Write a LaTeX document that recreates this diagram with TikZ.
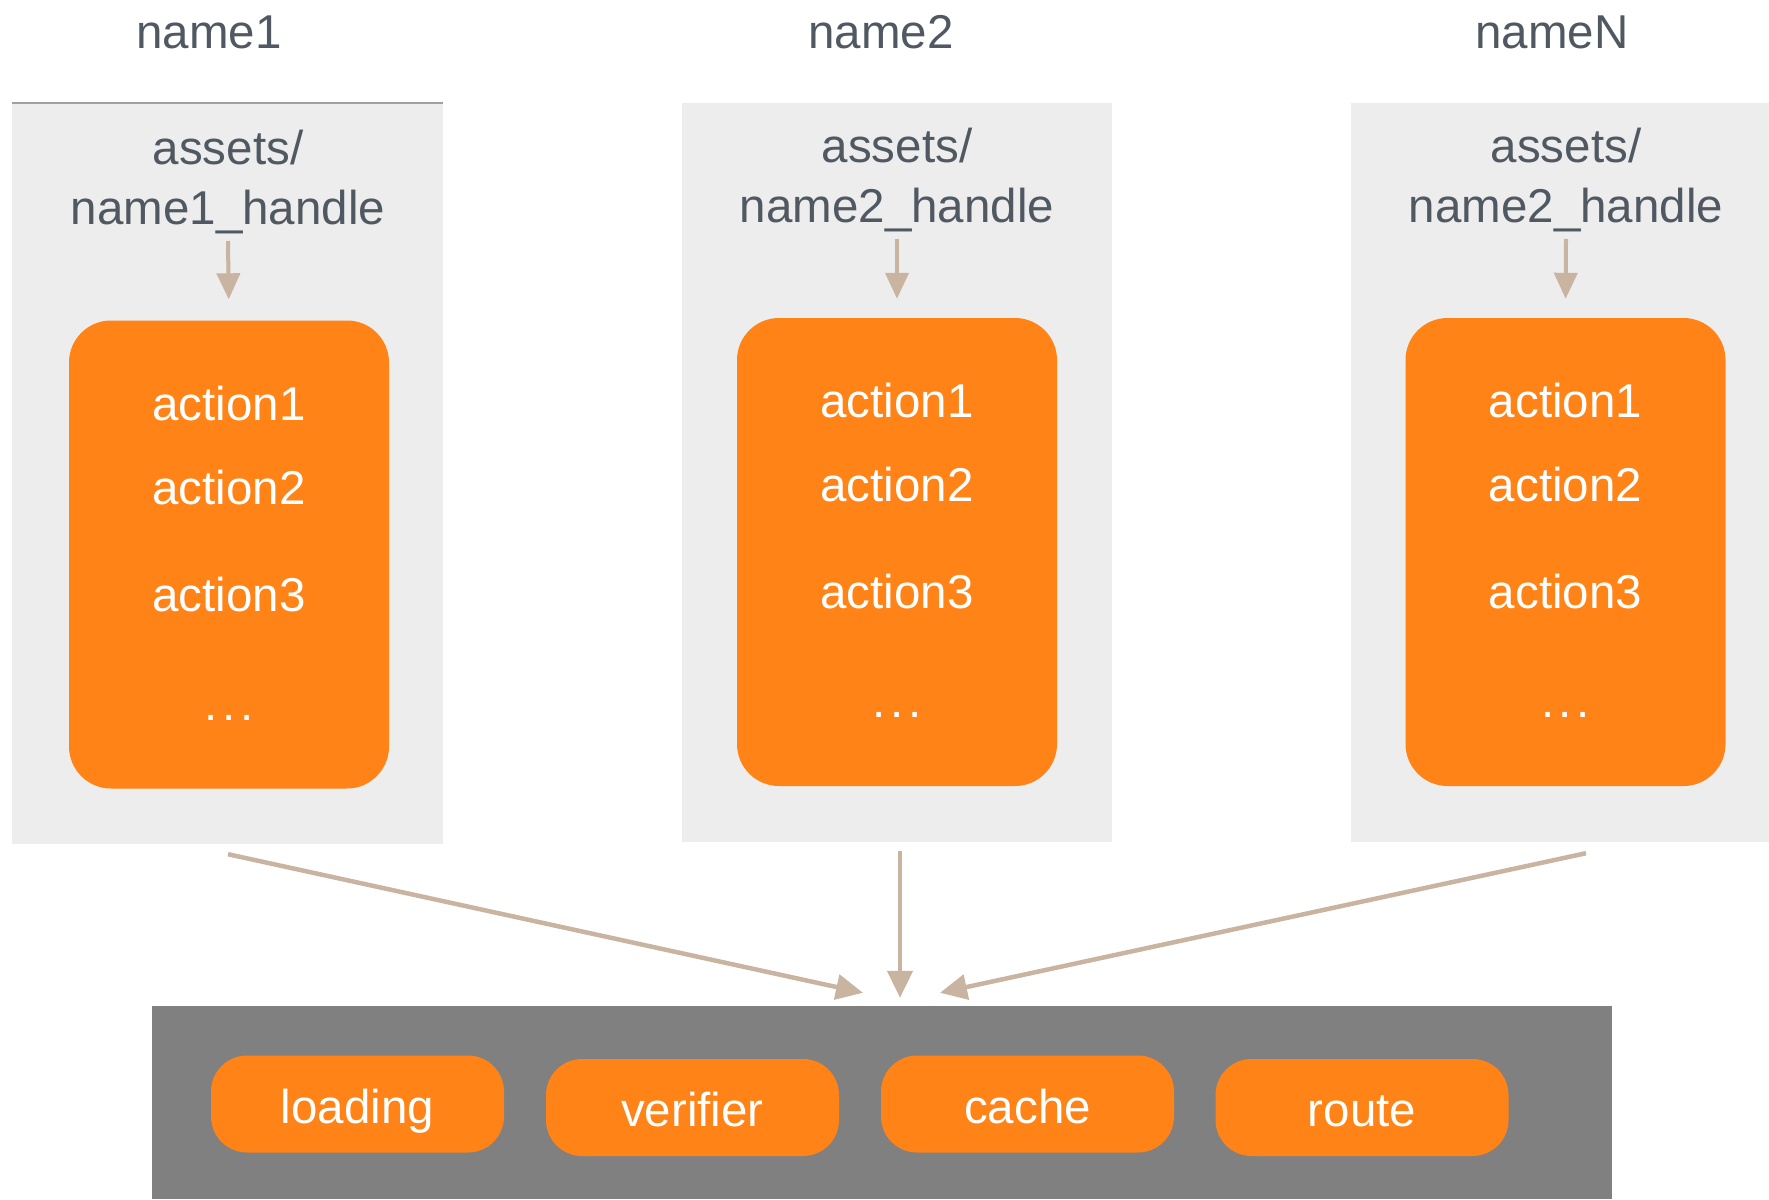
\documentclass[tikz,border=0pt]{standalone}
\usepackage{fontspec}
\setmainfont{Liberation Sans}
\usetikzlibrary{arrows.meta}

\definecolor{panelgray}{RGB}{237,237,237}
\definecolor{basegray}{RGB}{128,128,128}
\definecolor{boxorange}{RGB}{255,131,22}
\definecolor{flowtan}{RGB}{200,180,160}
\definecolor{labelgray}{RGB}{80,88,98}
\definecolor{edgegray}{RGB}{160,160,160}

\tikzset{
  bigfont/.style={font=\fontsize{47.5}{60}\selectfont},
  title/.style={bigfont, text=labelgray, inner sep=0pt},
  panel/.style={fill=panelgray, draw=none, inner sep=0pt},
  handle/.style={bigfont, text=labelgray, align=center, inner sep=0pt},
  actionbox/.style={fill=boxorange, draw=none, rounded corners=42pt,
    minimum width=320pt, minimum height=468pt, inner sep=0pt},
  actiontext/.style={bigfont, text=white, anchor=base, inner sep=0pt},
  pill/.style={fill=boxorange, draw=none, rounded corners=36pt,
    minimum width=293pt, minimum height=97pt, inner sep=0pt,
    text height=38pt, text depth=0pt, bigfont, text=white},
  flow/.style={draw=flowtan, line width=4.5pt,
    -{Triangle[width=25pt,length=27pt]}},
  smallflow/.style={draw=flowtan, line width=4pt,
    -{Triangle[width=23pt,length=26pt]}},
}

\begin{document}
\begin{tikzpicture}[x=1pt,y=-1pt]
\useasboundingbox (0,0) rectangle (1769,1199);

% column titles
\node[title] (t1) at (209,32) {name1};
\node[title] (t2) at (881,32) {name2};
\node[title] (t3) at (1552,32) {nameN};

% light panels
\node[panel, minimum width=431pt, minimum height=741pt] (p1) at (227.5,473.5) {};
\node[panel, minimum width=430pt, minimum height=739pt] (p2) at (897,472.5) {};
\node[panel, minimum width=418pt, minimum height=739pt] (p3) at (1560,472.5) {};
\draw[edgegray, line width=1.5pt] (p1.north west) -- (p1.north east);

% handle labels
\node[handle] (h1) at (228,182) {assets/\\name1\_handle};
\node[handle] (h2) at (897,180) {assets/\\name2\_handle};
\node[handle] (h3) at (1566,180) {assets/\\name2\_handle};

% action boxes
\node[actionbox] (b1) at (229,554.5) {};
\node[actionbox] (b2) at (897,552) {};
\node[actionbox] (b3) at (1565.5,552) {};

\foreach \b in {b1,b2,b3}{
  \node[actiontext] (\b a1) at ([yshift=-100pt]\b.north) {action1};
  \node[actiontext] (\b a2) at ([yshift=-184pt]\b.north) {action2};
  \node[actiontext] (\b a3) at ([yshift=-291pt]\b.north) {action3};
  \node[actiontext] (\b a4) at ([yshift=-400pt]\b.north) {.\kern4.5pt.\kern4.5pt.};
}

% arrows from handle labels into the action boxes
\coordinate (c1) at (228,241);
\coordinate (c2) at (897,239);
\coordinate (c3) at (1566,239);
\draw[smallflow, shorten >=21pt] (c1) -- (b1.north);
\draw[smallflow, shorten >=19pt] (c2) -- (b2.north);
\draw[smallflow, shorten >=19pt] (c3) -- (b3.north);

% base layer
\node[fill=basegray, draw=none, inner sep=0pt, minimum width=1460pt,
  minimum height=193pt] (base) at (882,1102.5) {};
\node[pill] (loading) at (357.5,1104) {loading};
\node[pill] (verifier) at (692.5,1107.5) {verifier};
\node[pill] (cache) at (1027.5,1104) {cache};
\node[pill] (route) at (1362,1107.5) {route};

% arrows converging on the base layer
\coordinate (s1) at ([xshift=0.5pt,yshift=-10pt]p1.south);
\coordinate (s2) at ([xshift=3pt,yshift=-9pt]p2.south);
\coordinate (s3) at ([xshift=26pt,yshift=-11pt]p3.south);
\coordinate (e1) at ([xshift=-19pt,yshift=13pt]base.north);
\coordinate (e2) at ([xshift=18pt,yshift=8pt]base.north);
\coordinate (e3) at ([xshift=58pt,yshift=13pt]base.north);
\draw[flow] (s1) -- (e1);
\draw[flow] (s2) -- (e2);
\draw[flow] (s3) -- (e3);
\end{tikzpicture}
\end{document}
